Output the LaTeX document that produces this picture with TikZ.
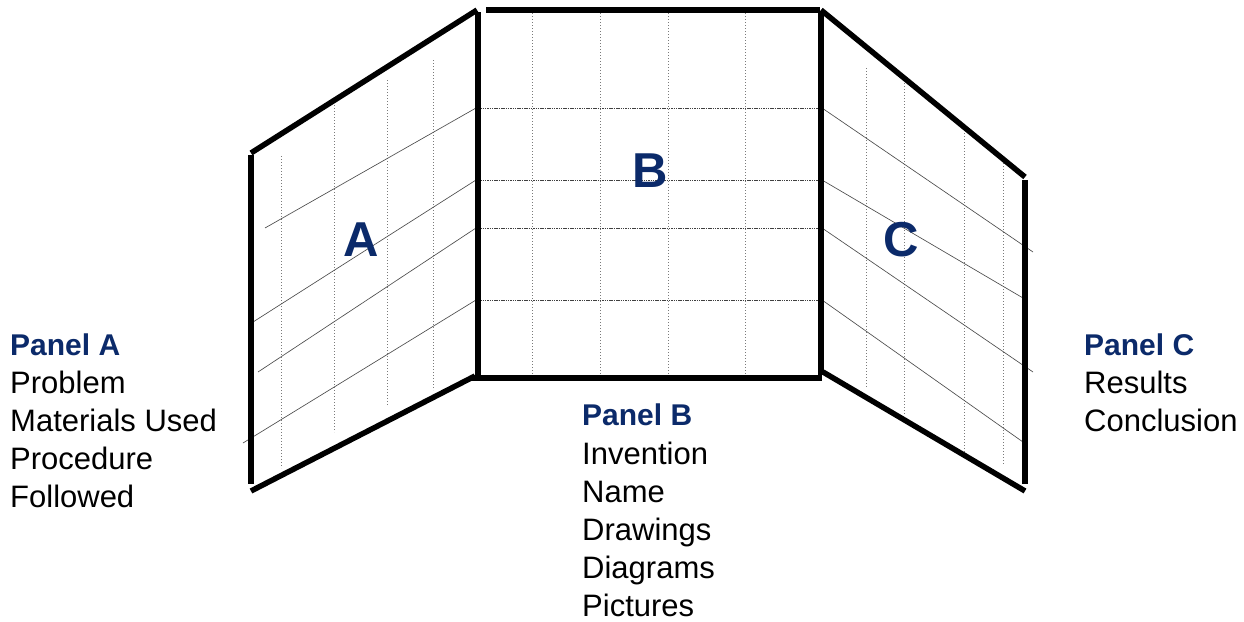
\documentclass[tikz,border=0pt]{standalone}
\usepackage{fontspec}
\setmainfont{Liberation Sans}
\definecolor{navy}{HTML}{0B2A6A}
\definecolor{gridc}{HTML}{7A7A7A}
\begin{document}
\begin{tikzpicture}[x=1pt,y=-1pt,
  edge/.style={line width=5.5pt,black},
  gridv/.style={gridc,line width=1pt,dotted},
  gridh/.style={black!75,line width=0.7pt,dash pattern=on 1.5pt off 0.8pt},
  diag/.style={black!70,line width=0.65pt},
  big/.style={navy,font=\fontsize{49}{49}\selectfont\bfseries,inner sep=0},
  head/.style={navy,font=\fontsize{30}{30}\selectfont\bfseries,inner sep=0,anchor=base west},
  item/.style={black,font=\fontsize{31}{31}\selectfont,inner sep=0,anchor=base west}]
\useasboundingbox (0,0) rectangle (1244,621);
\fill[white] (0,0) rectangle (1244,621);
% ---------- Panel B grid ----------
\foreach \x in {532,600,668,745} \draw[gridv] (\x,13) -- (\x,376);
\foreach \y in {108,180,228,300} \draw[gridh] (478,\y) -- (820,\y);
% ---------- Panel A grid ----------
\draw[gridv] (281,156) -- (281,468);
\draw[gridv] (334,105) -- (334,432);
\draw[gridv] (387,80) -- (387,405);
\draw[gridv] (433,60) -- (433,390);
\draw[diag] (265,228) -- (476,108);
\draw[diag] (253,322) -- (476,180);
\draw[diag] (258,372) -- (476,228);
\draw[diag] (243,443) -- (476,300);
% ---------- Panel C grid ----------
\draw[gridv] (866,68) -- (866,387);
\draw[gridv] (904,83) -- (904,415);
\draw[gridv] (964,133) -- (964,452);
\draw[gridv] (1003,163) -- (1003,465);
\draw[diag] (822,108) -- (1033,252);
\draw[diag] (822,180) -- (1023,298);
\draw[diag] (822,228) -- (1033,372);
\draw[diag] (822,300) -- (1023,442);
% ---------- corners ----------
\coordinate (a1) at (251,153);
\coordinate (a2) at (477,10);
% ---------- thick edges ----------
\draw[edge] (251,155) -- (251,484);
\draw[edge] (a1) -- (a2);
\draw[edge] (251,491) -- (475,376);
\draw[edge] (478,12) -- (478,379);
\draw[edge] (486,10) -- (820,10);
\draw[edge] (472,378) -- (822,378);
\draw[edge] (821,12) -- (821,375);
\draw[edge] (821,10) -- (1025,177);
\draw[edge] (1025,180) -- (1025,484);
\draw[edge] (823,372) -- (1025,491);
% ---------- letters ----------
\node[big] (A) at (361,240) {A};
\node[big] (B) at (650,171) {B};
\node[big] (C) at (901,240) {C};
% ---------- texts ----------
\node[head] (ha) at (10,355) {Panel A};
\node[item] (a1t) at (10,393) {Problem};
\node[item] (a2t) at (10,431) {Materials Used};
\node[item] (a3t) at (10,469) {Procedure};
\node[item] (a4t) at (10,507) {Followed};
\node[head] (hb) at (582,425) {Panel B};
\node[item] (b1t) at (582,464) {Invention};
\node[item] (b2t) at (582,502) {Name};
\node[item] (b3t) at (582,540) {Drawings};
\node[item] (b4t) at (582,578) {Diagrams};
\node[item] (b5t) at (582,616) {Pictures};
\node[head] (hc) at (1084,355) {Panel C};
\node[item] (c1t) at (1084,393) {Results};
\node[item] (c2t) at (1084,431) {Conclusion};
\end{tikzpicture}
\end{document}
